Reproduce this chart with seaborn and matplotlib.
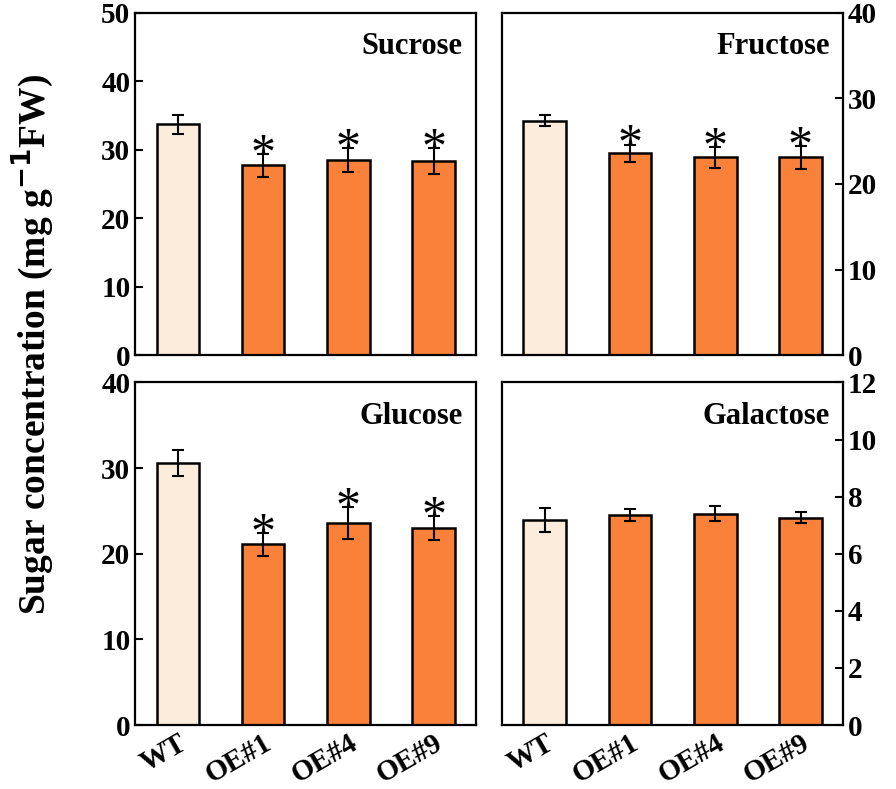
import seaborn as sns
import matplotlib.pyplot as plt
import pandas as pd

# Values (mean +/- error)
genotypes = ["WT", "OE#1", "OE#4", "OE#9"]
sucrose = [33.7, 27.7, 28.5, 28.3]
sucrose_err = [1.4, 1.7, 1.8, 1.9]
fructose = [27.4, 23.6, 23.1, 23.1]
fructose_err = [0.65, 1.0, 1.2, 1.3]
glucose = [30.6, 21.1, 23.6, 23.0]
glucose_err = [1.5, 1.35, 1.9, 1.4]
galactose = [7.18, 7.35, 7.40, 7.26]
galactose_err = [0.42, 0.22, 0.27, 0.20]
stars = {"Sucrose": [False, True, True, True],
         "Fructose": [False, True, True, True],
         "Glucose": [False, True, True, True],
         "Galactose": [False, False, False, False]}

panels = [("Sucrose", sucrose, sucrose_err, 50, 10),
          ("Fructose", fructose, fructose_err, 40, 10),
          ("Glucose", glucose, glucose_err, 40, 10),
          ("Galactose", galactose, galactose_err, 12, 2)]

palette = {"WT": "#fcecdc", "OE#1": "#fa8139", "OE#4": "#fa8139", "OE#9": "#fa8139"}

sns.set_style("ticks")
plt.rcParams["font.family"] = ["Liberation Serif", "DejaVu Serif"]
plt.rcParams["font.weight"] = "bold"
for key in ["text.color", "axes.labelcolor", "xtick.color", "ytick.color"]:
    plt.rcParams[key] = "black"

fig, axes = plt.subplots(2, 2, figsize=(8.96, 7.89), dpi=100)
plt.subplots_adjust(left=0.151, right=0.941, top=0.984, bottom=0.081,
                    wspace=0.076, hspace=0.079)

for k, (ax, (name, vals, errs, ymax, step)) in enumerate(zip(axes.flat, panels)):
    df = pd.DataFrame({"genotype": genotypes, "value": vals})
    sns.barplot(data=df, x="genotype", y="value", hue="genotype", palette=palette,
                saturation=1, dodge=False, legend=False, width=0.5, edgecolor="black",
                linewidth=1.8, errorbar=None, ax=ax)
    ax.errorbar(range(len(genotypes)), vals, yerr=errs, fmt="none", ecolor="black",
                elinewidth=1.5, capsize=4.5, capthick=1.5, zorder=5)
    for i, (v, e, s) in enumerate(zip(vals, errs, stars[name])):
        if s:
            ax.annotate("*", xy=(i, v + e), xytext=(0, -10), textcoords="offset points",
                        ha="center", va="baseline", fontsize=36, fontweight="normal")
    ax.set_xlim(-0.5, 3.5)
    ax.set_ylim(0, ymax)
    ax.set_yticks(range(0, ymax + 1, step))
    ax.text(0.96, 0.9, name, transform=ax.transAxes, ha="right", va="center",
            fontsize=22, fontweight="bold")
    ax.set_xlabel("")
    ax.set_ylabel("")
    for sp in ax.spines.values():
        sp.set_visible(True)
        sp.set_linewidth(1.6)
        sp.set_color("black")
    ax.tick_params(axis="y", direction="in", length=6, width=1.5, labelsize=21)
    ax.tick_params(axis="x", length=0, labelsize=21, pad=3)
    if k % 2 == 1:
        ax.yaxis.tick_right()
        ax.tick_params(axis="y", direction="in", length=6, width=1.5, labelsize=21)
    if k < 2:
        ax.set_xticklabels([])
    else:
        for lab in ax.get_xticklabels():
            lab.set_rotation(30)
            lab.set_ha("right")
            lab.set_rotation_mode("anchor")
            lab.set_fontweight("bold")

fig.text(0.037, 0.563, "Sugar concentration (mg g$^{\\mathbf{-1}}$FW)", rotation=90,
         ha="center", va="center", fontsize=27, fontweight="bold")

plt.savefig("out.png", dpi=100)
plt.close()
